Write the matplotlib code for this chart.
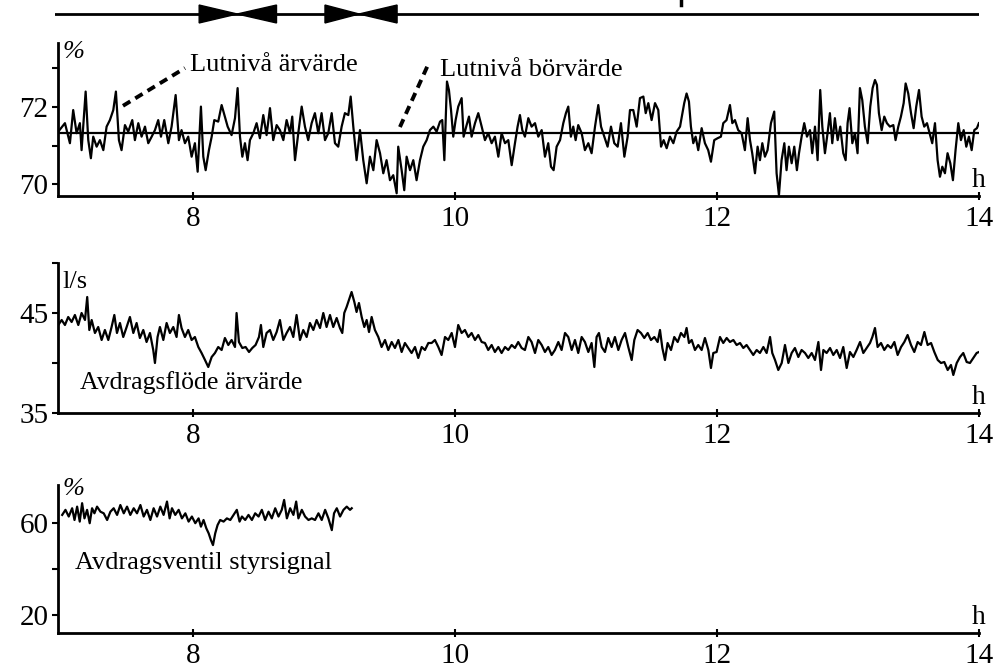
import numpy as np
import matplotlib
matplotlib.use("Agg")
import matplotlib.pyplot as plt

plt.rcParams['font.family'] = ['Liberation Serif', 'DejaVu Serif']

# --- Lutnivå (top panel), hours / percent ---
level_t = [6.972, 7.023, 7.061, 7.086, 7.112, 7.137, 7.150, 7.181, 7.201, 7.221, 7.239, 7.265,
           7.290, 7.316, 7.341, 7.366, 7.392, 7.412, 7.435, 7.455, 7.481, 7.506, 7.537, 7.557,
           7.583, 7.608, 7.634, 7.659, 7.685, 7.710, 7.735, 7.756, 7.781, 7.812, 7.837, 7.868,
           7.893, 7.913, 7.939, 7.964, 7.990, 8.015, 8.036, 8.061, 8.079, 8.097, 8.122, 8.143,
           8.163, 8.193, 8.219, 8.244, 8.265, 8.295, 8.321, 8.341, 8.359, 8.377, 8.397, 8.417,
           8.435, 8.461, 8.486, 8.511, 8.537, 8.562, 8.588, 8.613, 8.639, 8.664, 8.690, 8.715,
           8.741, 8.758, 8.779, 8.804, 8.830, 8.855, 8.880, 8.906, 8.931, 8.957, 8.982, 9.008,
           9.033, 9.059, 9.084, 9.109, 9.135, 9.160, 9.186, 9.204, 9.224, 9.249, 9.275, 9.300,
           9.326, 9.351,
           9.377, 9.402, 9.428, 9.453, 9.478, 9.504, 9.529, 9.555, 9.567, 9.593, 9.613, 9.631,
           9.657, 9.682, 9.707, 9.733, 9.758, 9.784, 9.809, 9.835, 9.860, 9.886, 9.903, 9.919,
           9.939, 9.954, 9.970, 9.987, 10.005, 10.025, 10.051, 10.066, 10.089, 10.107, 10.127,
           10.153, 10.178, 10.204, 10.229, 10.254, 10.280, 10.305, 10.331, 10.356, 10.382,
           10.407, 10.433, 10.458, 10.478, 10.496, 10.514, 10.534, 10.560, 10.585, 10.611,
           10.636, 10.662, 10.687, 10.712, 10.733, 10.753, 10.776, 10.802, 10.827, 10.847,
           10.865, 10.885, 10.903, 10.921, 10.941, 10.967, 10.992, 11.018, 11.043, 11.069,
           11.094, 11.115, 11.140, 11.165, 11.191, 11.216, 11.242, 11.267, 11.293, 11.318,
           11.336, 11.361, 11.387, 11.412, 11.438, 11.456, 11.476, 11.501, 11.527, 11.552,
           11.573, 11.593, 11.616, 11.641, 11.667, 11.692, 11.718,
           11.750, 11.768, 11.786, 11.801, 11.819, 11.837, 11.857, 11.883, 11.908, 11.933,
           11.954, 11.979, 12.005, 12.030, 12.048, 12.073, 12.099, 12.117, 12.137, 12.162,
           12.188, 12.213, 12.234, 12.252, 12.269, 12.290, 12.310, 12.328, 12.346, 12.366,
           12.386, 12.412, 12.437, 12.455, 12.473, 12.493, 12.514, 12.531, 12.549, 12.570,
           12.590, 12.610, 12.626, 12.646, 12.666, 12.687, 12.710, 12.727, 12.748, 12.768,
           12.788, 12.804, 12.824, 12.844, 12.862, 12.880, 12.900, 12.921, 12.941, 12.964,
           12.982, 12.997, 13.012, 13.033, 13.053, 13.073, 13.091, 13.109, 13.129, 13.150,
           13.170, 13.188, 13.206, 13.221, 13.236, 13.257, 13.277, 13.297, 13.320, 13.346,
           13.363, 13.384, 13.404, 13.425, 13.440, 13.460, 13.481, 13.501, 13.521, 13.542,
           13.562, 13.582, 13.603, 13.623, 13.643, 13.664, 13.684, 13.702, 13.720, 13.740,
           13.760, 13.781, 13.801, 13.821, 13.842, 13.862, 13.883, 13.903, 13.923, 13.944,
           13.964, 13.984, 13.999]
level_v = [71.36, 71.58, 71.06, 71.92, 71.32, 71.58, 70.88, 72.40, 71.14, 70.67, 71.23, 70.97,
           71.14, 70.88, 71.49, 71.66, 71.92, 72.40, 71.14, 70.88, 71.53, 71.36, 71.66, 71.14,
           71.58, 71.23, 71.49, 71.06, 71.23, 71.40, 71.66, 71.23, 71.66, 71.06, 71.49, 72.31,
           71.14, 71.40, 71.06, 71.23, 70.71, 71.06, 70.32, 72.01, 70.71, 70.36, 70.88, 71.23,
           71.66, 71.62, 72.05, 71.75, 71.49, 71.27, 71.71, 72.49, 71.23, 70.71, 71.06, 70.62,
           71.14, 71.32, 71.58, 71.19, 71.79, 71.27, 71.97, 71.14, 71.53, 71.40, 71.14, 71.66,
           71.32, 71.75, 70.62, 71.32, 72.01, 71.49, 71.14, 71.58, 71.84, 71.32, 71.84, 71.14,
           71.32, 71.84, 71.06, 70.97, 71.49, 71.84, 71.79, 72.27, 71.49, 70.62, 71.40, 70.62,
           70.02, 70.71,
           70.36, 71.14, 70.80, 70.28, 70.62, 70.10, 70.23, 69.76, 70.97, 70.36, 69.84, 70.71,
           70.36, 70.62, 70.10, 70.62, 70.97, 71.14, 71.40, 71.49, 71.36, 71.62, 71.66, 70.62,
           72.66, 72.44, 71.92, 71.23, 71.66, 72.01, 72.23, 71.23, 71.53, 71.75, 71.23,
           71.58, 71.84, 71.49, 71.14, 71.32, 71.06, 71.23, 70.71, 71.32, 71.06,
           71.14, 70.49, 71.06, 71.49, 71.79, 71.40, 71.23, 71.71, 71.49, 71.58,
           71.23, 71.40, 70.71, 71.06, 70.45, 70.36, 70.97, 71.14, 71.58, 71.84,
           72.01, 71.23, 71.49, 71.14, 71.53, 71.32, 70.88, 71.06, 70.80, 71.49,
           72.05, 71.49, 71.23, 70.97, 71.49, 71.06, 70.97, 71.58, 70.71, 71.23,
           71.92, 71.92, 71.49, 72.23, 72.27, 71.84, 72.10, 71.66, 72.10, 71.92,
           70.97, 71.14, 70.93, 71.23, 71.06, 71.36, 71.49,
           72.10, 72.35, 72.14, 71.49, 71.06, 71.23, 70.88, 71.45, 71.06, 70.88,
           70.58, 71.14, 71.19, 71.23, 71.58, 71.66, 72.05, 71.58, 71.66, 71.40,
           71.32, 70.88, 71.71, 71.14, 70.80, 70.28, 70.97, 70.62, 71.06, 70.71,
           70.88, 71.58, 71.88, 70.28, 69.71, 70.62, 71.06, 70.36, 70.97, 70.54,
           70.97, 70.36, 70.80, 71.23, 71.58, 71.23, 71.40, 70.80, 71.49, 70.62,
           72.44, 71.49, 70.80, 71.32, 71.84, 71.06, 71.71, 71.14, 71.49, 70.80,
           70.62, 71.58, 71.97, 71.06, 71.32, 70.80, 72.49, 72.18, 71.49, 71.06,
           72.01, 72.49, 72.70, 72.57, 71.84, 71.40, 71.75, 71.58, 71.49, 71.53,
           71.14, 71.49, 71.75, 72.10, 72.61, 72.35, 71.84, 71.45, 72.01, 72.44,
           71.75, 71.49, 71.58, 71.32, 71.06, 71.58, 70.62, 70.19, 70.45, 70.28,
           70.80, 70.54, 70.10, 70.88, 71.58, 71.14, 71.40, 70.97, 71.23, 70.88,
           71.40, 71.45, 71.58]
level_setpoint = 71.32

# --- Avdragsflöde ärvärde (middle panel), l/s ---
flow_t = [6.972, 6.998, 7.023, 7.048, 7.074, 7.099, 7.125, 7.150, 7.176, 7.193, 7.209, 7.227,
          7.252, 7.277, 7.303, 7.328, 7.354, 7.379, 7.400, 7.420, 7.443, 7.468, 7.494, 7.519,
          7.545, 7.570, 7.595, 7.621, 7.646, 7.672, 7.697, 7.710, 7.730, 7.748, 7.774, 7.799,
          7.824, 7.850, 7.875, 7.893, 7.913, 7.939, 7.964, 7.990, 8.015, 8.041, 8.066, 8.092,
          8.117, 8.143, 8.168, 8.193, 8.219, 8.244, 8.270, 8.295, 8.321, 8.333, 8.351, 8.377,
          8.402, 8.428, 8.453, 8.478, 8.504, 8.519, 8.537, 8.562, 8.588, 8.613, 8.639, 8.664,
          8.690, 8.715, 8.741, 8.766, 8.791, 8.817, 8.842, 8.868, 8.893, 8.919, 8.944, 8.970,
          8.995, 9.020, 9.046, 9.071, 9.097, 9.122, 9.140, 9.155, 9.173, 9.191, 9.211, 9.232,
          9.249, 9.267, 9.288, 9.308, 9.326, 9.344, 9.364, 9.389, 9.415, 9.440, 9.466, 9.491,
          9.517, 9.542, 9.568, 9.593, 9.618, 9.644, 9.669, 9.695, 9.720, 9.746, 9.771, 9.797,
          9.822, 9.847, 9.873, 9.898, 9.924, 9.949, 9.975, 10.000, 10.025, 10.051, 10.076,
          10.102, 10.127, 10.153, 10.178, 10.204, 10.229, 10.254, 10.280, 10.305, 10.331,
          10.356, 10.382, 10.407, 10.433, 10.458, 10.483,
          10.509, 10.534, 10.560, 10.585, 10.611, 10.636, 10.662, 10.687, 10.712, 10.738,
          10.763, 10.789, 10.814, 10.840, 10.865, 10.891, 10.916, 10.941, 10.967, 10.992,
          11.018, 11.043, 11.064, 11.081, 11.099, 11.120, 11.145, 11.170, 11.196, 11.221,
          11.247, 11.272, 11.298, 11.323, 11.349, 11.369, 11.394, 11.420, 11.445, 11.471,
          11.496, 11.522, 11.547, 11.565, 11.583, 11.603, 11.623, 11.649, 11.674, 11.700,
          11.725, 11.751, 11.768, 11.786, 11.807, 11.832, 11.857, 11.883, 11.908, 11.934,
          11.954, 11.972, 11.997, 12.023, 12.048, 12.074, 12.099, 12.125, 12.150, 12.176,
          12.201, 12.226, 12.252, 12.277, 12.303, 12.328, 12.354, 12.379, 12.405, 12.422,
          12.443, 12.468, 12.494, 12.519, 12.545, 12.570, 12.595, 12.621, 12.646, 12.672,
          12.697, 12.723, 12.748, 12.774, 12.794, 12.812, 12.837, 12.863, 12.888, 12.914,
          12.939, 12.964, 12.990, 13.015, 13.041, 13.066, 13.092, 13.117, 13.142, 13.168,
          13.186, 13.206, 13.226, 13.252, 13.277, 13.303, 13.328, 13.354, 13.379, 13.405,
          13.430, 13.455, 13.481, 13.506, 13.532, 13.557, 13.583, 13.608, 13.634, 13.659,
          13.685, 13.710, 13.735, 13.761, 13.786, 13.804, 13.830, 13.855, 13.880, 13.906,
          13.931, 13.957, 13.982, 14.000]
flow_v = [43.8, 44.3, 43.8, 44.6, 44.1, 44.8, 43.8, 45.0, 44.3, 46.6, 43.3, 44.3,
          43.0, 43.6, 42.3, 43.3, 42.3, 43.6, 44.8, 43.0, 44.0, 42.6, 43.6, 44.6,
          43.0, 44.0, 42.5, 43.3, 42.1, 43.0, 41.3, 40.0, 42.6, 43.6, 42.3, 44.0,
          43.0, 43.6, 42.6, 44.8, 43.5, 42.6, 43.3, 42.3, 42.6, 41.6, 41.0, 40.3,
          39.6, 40.6, 41.0, 41.6, 41.3, 42.5, 41.8, 42.3, 41.6, 45.0, 42.1, 41.5,
          41.6, 41.1, 41.5, 41.8, 42.6, 43.8, 41.6, 43.0, 43.3, 42.3, 43.1, 44.3,
          42.3, 43.0, 43.6, 42.6, 44.8, 42.3, 43.3, 42.6, 44.0, 43.3, 44.3, 43.5,
          45.0, 43.6, 44.8, 43.6, 44.5, 43.5, 43.0, 45.0, 45.6, 46.3, 47.1, 46.1,
          45.1, 46.0, 44.6, 43.6, 44.3, 43.1, 44.6, 43.3, 42.6, 41.6, 42.3, 41.3,
          42.1, 41.5, 42.3, 41.1, 42.0, 41.5, 41.0, 41.6, 40.5, 41.6, 41.3, 42.0,
          42.0, 42.3, 41.6, 40.8, 42.6, 42.3, 43.0, 41.6, 43.8, 43.0, 43.3,
          42.6, 43.0, 42.3, 42.8, 42.1, 42.0, 41.3, 41.8, 41.1, 41.6,
          41.0, 41.6, 41.3, 41.8, 41.5, 42.1,
          41.5, 41.3, 42.6, 42.1, 41.0, 42.3, 41.8, 41.1, 41.6, 40.8,
          41.3, 42.1, 41.3, 43.0, 42.6, 41.3, 42.3, 41.0, 42.6, 42.1,
          41.1, 42.0, 39.6, 42.6, 43.0, 41.6, 41.1, 42.5, 41.6, 42.6,
          41.3, 42.3, 43.0, 41.6, 40.3, 42.3, 43.3, 43.0, 42.5, 43.0,
          42.3, 42.6, 42.1, 43.3, 41.5, 40.3, 42.0, 41.3, 42.6, 42.1,
          43.0, 42.6, 43.5, 42.0, 42.3, 41.3, 41.8, 41.3, 42.5, 41.3,
          39.5, 41.0, 41.1, 42.6, 42.0, 42.5, 42.1, 42.3, 41.8, 42.0,
          41.5, 41.8, 41.3, 40.8, 41.3, 41.0, 41.6, 41.0, 42.6, 41.0,
          40.3, 39.3, 40.0, 41.8, 40.0, 41.0, 41.5, 40.6, 41.3, 41.0,
          40.5, 41.0, 40.3, 42.1, 39.3, 41.3, 41.0, 41.5, 40.8, 41.3,
          40.5, 41.6, 39.5, 41.1, 40.6, 41.3, 42.1, 41.0, 41.5, 42.0,
          42.6, 43.5, 41.6, 42.0, 41.3, 41.8, 41.5, 42.1, 40.8, 41.6,
          42.1, 42.8, 41.8, 41.1, 42.1, 41.8, 43.1, 41.8, 42.0, 41.1,
          40.3, 40.0, 40.1, 39.3, 39.8, 38.8, 40.0, 40.6, 41.0, 40.1,
          40.0, 40.5, 41.0, 41.1]

# --- Avdragsventil styrsignal (bottom panel), percent ---
valve_t = [7.002, 7.027, 7.052, 7.078, 7.096, 7.116, 7.136, 7.154, 7.172, 7.192, 7.212, 7.230,
           7.248, 7.268, 7.294, 7.319, 7.345, 7.370, 7.395, 7.421, 7.446, 7.472, 7.497, 7.522,
           7.548, 7.573, 7.599, 7.624, 7.649, 7.675, 7.700, 7.726, 7.751, 7.776, 7.802, 7.822,
           7.840, 7.865, 7.891, 7.916, 7.942, 7.967, 7.992, 8.018, 8.043, 8.061, 8.081, 8.102,
           8.120, 8.137, 8.153, 8.170, 8.188, 8.208, 8.234, 8.259, 8.285, 8.310, 8.335, 8.356,
           8.374, 8.399, 8.424, 8.450, 8.475, 8.501, 8.526, 8.551, 8.577, 8.602, 8.628, 8.653,
           8.678, 8.696, 8.717, 8.742, 8.767, 8.788, 8.805, 8.831, 8.856, 8.882, 8.907, 8.932,
           8.958, 8.983, 9.009, 9.034, 9.060, 9.077, 9.098, 9.123, 9.149, 9.174, 9.199, 9.212]
valve_v = [63.5, 65.7, 62.8, 66.4, 61.3, 67.1, 60.6, 68.6, 62.0, 65.7, 59.9, 66.4,
           64.2, 67.1, 64.9, 64.2, 61.3, 64.9, 66.4, 63.5, 67.8, 64.2, 67.1, 63.5,
           66.4, 64.2, 67.8, 62.8, 65.7, 61.3, 66.4, 62.8, 67.1, 63.5, 69.3, 62.0,
           66.4, 63.5, 65.7, 62.0, 64.2, 60.6, 62.8, 59.9, 62.0, 58.4, 61.3, 57.7,
           55.5, 52.6, 50.4, 55.5, 59.1, 61.3, 60.6, 62.0, 61.3, 63.5, 65.7, 60.6,
           62.8, 61.3, 63.5, 61.3, 64.2, 62.8, 65.7, 61.3, 64.9, 62.0, 66.4, 62.8,
           65.7, 70.0, 62.0, 66.4, 63.5, 69.3, 62.0, 65.7, 62.8, 61.3, 62.0, 61.3,
           64.2, 61.3, 65.7, 62.0, 56.9, 64.2, 66.4, 62.8, 65.7, 67.1, 65.7, 66.4]

hour_ticks = [8, 10, 12, 14]
phase_marks = [(8.05, 8.34, 8.64), (9.01, 9.27, 9.56)]  # start, meet, end of the arrow pairs
cut_mark_t = 11.73   # stroke of a cut-off letter above the marker line

W, H = 994, 667
fig = plt.figure(figsize=(W / 100, H / 100), dpi=100)

def frame(top, bottom, left=58, right=979):
    return [left / W, 1 - bottom / H, (right - left) / W, (bottom - top) / H]

XLIM = (6.97, 14.0)
LW = 1.6
TICKFS = 21

def style(ax, yticks, ylabels):
    ax.set_xlim(*XLIM)
    for s in ['top', 'right']:
        ax.spines[s].set_visible(False)
    for s in ['left', 'bottom']:
        ax.spines[s].set_linewidth(2.0)
    ax.set_xticks(hour_ticks)
    ax.set_xticklabels([str(h) for h in hour_ticks])
    ax.set_yticks(yticks)
    ax.set_yticklabels(ylabels)
    ax.tick_params(axis='y', direction='out', length=4, width=1.5, labelsize=TICKFS, pad=3)
    ax.tick_params(axis='x', direction='inout', length=6, width=1.5, labelsize=TICKFS, pad=4)
    ax.text(1.0, 0.02, 'h', transform=ax.transAxes, ha='center', va='bottom', fontsize=20)

# top marker line with arrow pairs
axm = fig.add_axes(frame(0, 28, left=55, right=979))
axm.set_xlim(6.95, 14.0)
axm.set_ylim(-1, 1)
axm.axis('off')
axm.plot([6.95, 14.0], [0, 0], color='black', lw=2.0)
for a, m, b in phase_marks:
    axm.fill([a, a, m], [-0.64, 0.64, 0], color='black')
    axm.fill([b, b, m], [-0.64, 0.64, 0], color='black')
axm.plot([cut_mark_t, cut_mark_t], [0.62, 1.0], color='black', lw=2.5)

# top panel: level
ax1 = fig.add_axes(frame(43, 196))
ax1.plot(level_t, level_v, color='black', lw=LW)
ax1.axhline(level_setpoint, color='black', lw=1.6)
ax1.set_ylim(69.69, 73.66)
style(ax1, [70, 71, 72, 73], ['70', '', '72', ''])
ax1.text(0.005, 0.94, '%', transform=ax1.transAxes, fontsize=19, ha='left', va='center', style='italic')
ax1.plot([7.466, 7.939], [72.03, 73.01], color='black', lw=2.8, ls=(0, (2.2, 1.5)))
ax1.text(7.977, 73.09, 'Lutnivå ärvärde', fontsize=19, ha='left', va='center')
ax1.plot([9.58, 9.794], [71.48, 73.09], color='black', lw=2.8, ls=(0, (2.2, 1.5)))
ax1.text(9.885, 72.96, 'Lutnivå börvärde', fontsize=19, ha='left', va='center')

# middle panel: flow
ax2 = fig.add_axes(frame(263, 413))
ax2.plot(flow_t, flow_v, color='black', lw=LW)
ax2.set_ylim(35, 50)
style(ax2, [35, 40, 45, 50], ['35', '', '45', ''])
ax2.text(0.005, 0.87, 'l/s', transform=ax2.transAxes, fontsize=19, ha='left', va='center')
ax2.text(7.137, 38.0, 'Avdragsflöde ärvärde', fontsize=18.5, ha='left', va='center')

# bottom panel: valve signal
ax3 = fig.add_axes(frame(485, 633))
ax3.plot(valve_t, valve_v, color='black', lw=LW)
ax3.set_ylim(12.2, 76.5)
style(ax3, [20, 40, 60], ['20', '', '60'])
ax3.text(0.005, 0.97, '%', transform=ax3.transAxes, fontsize=19, ha='left', va='center', style='italic')
ax3.text(7.10, 42.6, 'Avdragsventil styrsignal', fontsize=19, ha='left', va='center')

fig.savefig('out.png', dpi=100)
